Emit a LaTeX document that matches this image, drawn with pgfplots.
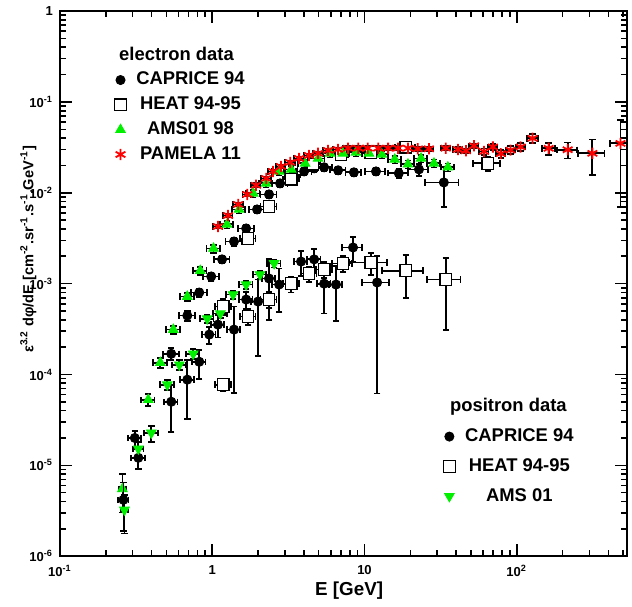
\documentclass[border=0pt]{standalone}
\usepackage{fontspec}
\setmainfont{Liberation Sans}
\usepackage{pgfplots}
\usepackage{pgfplotstable}
\pgfplotsset{compat=1.18}
\definecolor{amsgreen}{RGB}{0,240,0}

% electron data: E [GeV], value, relative x error, relative y error
\pgfplotstableread{
E V rx ry
0.31 2.0e-5 0.1 0.2
0.538 1.69e-4 0.12 0.15
0.686 4.45e-4 0.12 0.12
0.822 7.98e-4 0.12 0.1
0.985 1.20e-3 0.12 0.1
1.16 1.85e-3 0.12 0.1
1.39 2.91e-3 0.12 0.1
1.67 4.05e-3 0.12 0.1
1.97 6.56e-3 0.12 0.1
2.36 9.60e-3 0.12 0.1
2.79 0.0127 0.12 0.1
3.39 0.0156 0.12 0.1
4.01 0.0172 0.12 0.1
4.67 0.0186 0.12 0.1
5.43 0.0191 0.12 0.1
6.71 0.0177 0.12 0.1
8.52 0.0168 0.12 0.1
11.9 0.0172 0.15 0.1
16.8 0.0164 0.15 0.12
22.8 0.0181 0.15 0.15
33.2 0.0130 0.25 0.46
}\capem

\pgfplotstableread{
E V rx ry
1.72 3.14e-3 0.12 0.1
2.36 7.08e-3 0.12 0.1
3.30 0.0141 0.12 0.1
4.59 0.0206 0.12 0.1
7.0 0.0265 0.12 0.1
11.0 0.0279 0.12 0.1
18.7 0.0317 0.15 0.1
64.6 0.0211 0.2 0.18
}\heatem

\pgfplotstableread{
E V rx ry
0.257 5.5e-6 0.05 0.45
0.38 5.27e-5 0.1 0.15
0.456 1.35e-4 0.1 0.12
0.555 3.12e-4 0.1 0.1
0.686 7.21e-4 0.1 0.1
0.834 1.39e-3 0.1 0.1
1.02 2.44e-3 0.1 0.1
1.25 4.49e-3 0.1 0.1
1.50 6.56e-3 0.1 0.1
1.86 9.85e-3 0.1 0.1
2.26 0.0127 0.1 0.1
2.75 0.0172 0.1 0.1
3.30 0.0181 0.1 0.1
4.07 0.0211 0.1 0.1
4.96 0.0239 0.1 0.1
5.94 0.0272 0.1 0.1
7.22 0.0272 0.1 0.1
8.79 0.0279 0.1 0.1
10.7 0.0272 0.1 0.1
13.0 0.0265 0.1 0.1
15.8 0.0233 0.1 0.1
19.3 0.0206 0.1 0.1
23.5 0.0239 0.1 0.1
28.6 0.0211 0.1 0.1
35.3 0.0191 0.1 0.1
}\amsem

\pgfplotstableread{
E V rx ry
1.09 0.00426 0.07 0.05
1.27 0.00563 0.07 0.05
1.48 0.00745 0.07 0.05
1.70 0.0096 0.07 0.05
1.94 0.0121 0.07 0.05
2.26 0.0144 0.07 0.05
2.51 0.0172 0.07 0.05
2.83 0.0195 0.07 0.05
3.25 0.0216 0.07 0.05
3.72 0.0239 0.07 0.05
4.32 0.0258 0.07 0.05
4.95 0.0272 0.07 0.05
5.76 0.0293 0.07 0.05
6.7 0.030 0.07 0.05
7.8 0.031 0.07 0.05
9.1 0.031 0.07 0.05
10.5 0.031 0.07 0.05
12.3 0.031 0.07 0.05
14.3 0.031 0.07 0.05
16.6 0.031 0.07 0.05
19.3 0.031 0.07 0.05
22.4 0.0305 0.07 0.05
26.5 0.0305 0.07 0.05
34.2 0.031 0.07 0.05
41.1 0.030 0.07 0.06
46.4 0.029 0.07 0.06
52.4 0.033 0.07 0.06
61 0.0285 0.07 0.08
69.7 0.032 0.07 0.08
78.6 0.027 0.07 0.1
91 0.0295 0.07 0.1
106 0.032 0.07 0.1
127 0.0398 0.08 0.12
162 0.0309 0.1 0.15
216 0.0298 0.15 0.2
314 0.0272 0.2 0.42
480 0.035 0.15 0.8
}\pamem

% positron data
\pgfplotstableread{
E V rx ry
0.261 4.17e-6 0.08 0.55
0.327 1.21e-5 0.1 0.25
0.538 5.01e-5 0.1 0.54
0.686 8.77e-5 0.1 0.63
0.822 1.38e-4 0.1 0.35
0.956 2.75e-4 0.1 0.22
1.09 3.54e-4 0.1 0.28
1.39 3.12e-4 0.1 0.8
1.67 6.68e-4 0.1 0.22
2.0 6.35e-4 0.1 0.75
2.36 1.14e-3 0.1 0.65
2.75 9.77e-4 0.1 0.5
3.83 1.75e-3 0.1 0.3
4.67 1.85e-3 0.1 0.3
5.43 1.0e-3 0.1 0.53
6.50 9.77e-4 0.1 0.6
8.41 2.5e-3 0.15 0.3
12.1 1.03e-3 0.2 0.94
}\capep

\pgfplotstableread{
E V rx ry
1.18 5.6e-4 0.12 0.2
1.18 7.72e-5 0.12 0.15
1.72 4.34e-4 0.12 0.2
2.36 6.68e-4 0.12 0.2
3.30 1.0e-3 0.12 0.2
4.32 1.29e-3 0.12 0.2
5.43 1.43e-3 0.12 0.2
7.22 1.67e-3 0.15 0.2
11.0 1.71e-3 0.28 0.27
18.7 1.39e-3 0.3 0.5
34.2 1.11e-3 0.25 0.72
}\heatep

\pgfplotstableread{
E V rx ry
0.265 3.23e-6 0.05 0.45
0.327 1.52e-5 0.08 0.2
0.398 2.28e-5 0.1 0.2
0.507 7.72e-5 0.1 0.12
0.608 1.28e-4 0.1 0.12
0.75 1.69e-4 0.1 0.12
0.927 4.12e-4 0.1 0.1
1.13 4.68e-4 0.1 0.1
1.37 7.59e-4 0.1 0.1
1.67 9.77e-4 0.1 0.1
2.06 1.26e-3 0.1 0.1
2.55 1.67e-3 0.1 0.1
}\amsep

\begin{document}
\begin{tikzpicture}
\begin{axis}[name=main,
  xmode=log, ymode=log, xmin=0.1, xmax=530, ymin=1e-6, ymax=1,
  scale only axis, width=283.5pt, height=272.5pt,
  error bars/x dir=both, error bars/y dir=both,
  error bars/x explicit relative, error bars/y explicit relative,
  error bars/error bar style={black, line width=0.9pt, solid},
  error bars/error mark options={rotate=90, black, mark size=1.6pt, line width=0.9pt, solid},
  xtick={0.1,1,10,100}, xticklabels={10\textsuperscript{-1},1,10,10\textsuperscript{2}},
  ytick={1e-6,1e-5,1e-4,1e-3,1e-2,1e-1,1},
  yticklabels={10\textsuperscript{-6},10\textsuperscript{-5},10\textsuperscript{-4},10\textsuperscript{-3},10\textsuperscript{-2},10\textsuperscript{-1},1},
  tick label style={font=\fontsize{6.5}{7}\selectfont\bfseries},
  xticklabel style={yshift=-1pt},
  major tick length=6pt, minor tick length=3pt,
  tick style={line width=0.8pt, black},
  axis line style={line width=1.2pt},
  xlabel={E [GeV]},
  xlabel style={font=\fontsize{9.4}{11}\selectfont\bfseries, at={(axis description cs:0.51,-0.064)}, anchor=center},
  ylabel={ε\textsuperscript{3.2} dφ/dE [cm\textsuperscript{-2}.sr\textsuperscript{-1}.s\textsuperscript{-1}.GeV\textsuperscript{-1}]},
  ylabel style={font=\fontsize{7.3}{9}\selectfont\bfseries, at={(axis description cs:-0.056,0.563)}, anchor=center},
  legend cell align=center,
  legend image post style={xshift=-3pt},
  legend style={draw=none, fill=none, font=\fontsize{9.2}{11}\selectfont\bfseries,
    at={(axis description cs:0.21,0.95)}, anchor=north, row sep=0.5pt},
]
% tick marks on all four sides
\pgfplotsinvokeforeach{0.1,1,10,100}{
  \draw[line width=0.8pt] (axis cs:#1,1e-6) -- ([yshift=6pt]axis cs:#1,1e-6);
  \draw[line width=0.8pt] (axis cs:#1,1) -- ([yshift=-6pt]axis cs:#1,1);
}
\pgfplotsinvokeforeach{0.2,0.3,0.4,0.5,0.6,0.7,0.8,0.9,2,3,4,5,6,7,8,9,20,30,40,50,60,70,80,90,200,300,400,500}{
  \draw[line width=0.8pt] (axis cs:#1,1e-6) -- ([yshift=3pt]axis cs:#1,1e-6);
  \draw[line width=0.8pt] (axis cs:#1,1) -- ([yshift=-3pt]axis cs:#1,1);
}
\pgfplotsinvokeforeach{1e-6,1e-5,1e-4,1e-3,1e-2,1e-1,1}{
  \draw[line width=0.8pt] (axis cs:0.1,#1) -- ([xshift=6pt]axis cs:0.1,#1);
  \draw[line width=0.8pt] (axis cs:530,#1) -- ([xshift=-6pt]axis cs:530,#1);
}
\pgfplotsinvokeforeach{2e-6,3e-6,4e-6,5e-6,6e-6,7e-6,8e-6,9e-6,2e-5,3e-5,4e-5,5e-5,6e-5,7e-5,8e-5,9e-5,2e-4,3e-4,4e-4,5e-4,6e-4,7e-4,8e-4,9e-4,2e-3,3e-3,4e-3,5e-3,6e-3,7e-3,8e-3,9e-3,0.02,0.03,0.04,0.05,0.06,0.07,0.08,0.09,0.2,0.3,0.4,0.5,0.6,0.7,0.8,0.9}{
  \draw[line width=0.8pt] (axis cs:0.1,#1) -- ([xshift=3pt]axis cs:0.1,#1);
  \draw[line width=0.8pt] (axis cs:530,#1) -- ([xshift=-3pt]axis cs:530,#1);
}
\addlegendimage{empty legend}
\addlegendentry{\makebox[0pt]{electron data\hspace*{11pt}}}
\addplot[only marks, mark=*, mark size=2.3pt, black] table[x=E, y=V, x error=rx, y error=ry] {\capem};
\addlegendentry{\hspace*{3pt}CAPRICE 94}
\addplot[only marks, mark=square*, mark size=2.9pt, black, mark options={fill=white, line width=0.6pt}] table[x=E, y=V, x error=rx, y error=ry] {\heatem};
\addlegendentry{\hspace*{3pt}HEAT 94-95}
\addplot[only marks, mark=triangle*, mark size=2.8pt, color=amsgreen] table[x=E, y=V, x error=rx, y error=ry] {\amsem};
\addlegendentry{\hspace*{3pt}AMS01 98}
\addplot[only marks, mark=asterisk, mark size=2.8pt, color=red, line width=0.9pt] table[x=E, y=V, x error=rx, y error=ry] {\pamem};
\addlegendentry{\hspace*{3pt}PAMELA 11}
\end{axis}
\begin{axis}[at={(main.south west)}, anchor=south west, hide axis,
  xmode=log, ymode=log, xmin=0.1, xmax=530, ymin=1e-6, ymax=1,
  scale only axis, width=283.5pt, height=272.5pt,
  error bars/x dir=both, error bars/y dir=both,
  error bars/x explicit relative, error bars/y explicit relative,
  error bars/error bar style={black, line width=0.9pt, solid},
  error bars/error mark options={rotate=90, black, mark size=1.6pt, line width=0.9pt, solid},
  legend cell align=center,
  legend image post style={xshift=-3pt},
  legend style={draw=none, fill=none, font=\fontsize{9.2}{11}\selectfont\bfseries,
    at={(axis description cs:0.79,0.305)}, anchor=north, row sep=3pt},
]
\addlegendimage{empty legend}
\addlegendentry{\makebox[0pt]{positron data\hspace*{8pt}}}
\addplot[only marks, mark=*, mark size=2.3pt, black] table[x=E, y=V, x error=rx, y error=ry] {\capep};
\addlegendentry{\hspace*{3pt}CAPRICE 94}
\addplot[only marks, mark=square*, mark size=2.9pt, black, mark options={fill=white, line width=0.6pt}] table[x=E, y=V, x error=rx, y error=ry] {\heatep};
\addlegendentry{\hspace*{3pt}HEAT 94-95}
\addplot[only marks, mark=triangle*, mark size=2.8pt, mark options={rotate=180}, color=amsgreen] table[x=E, y=V, x error=rx, y error=ry] {\amsep};
\addlegendentry{\hspace*{3pt}AMS 01}
\end{axis}
\path ([shift={(-30pt,-24pt)}]main.south west) rectangle ([shift={(2.5pt,5pt)}]main.north east);
\end{tikzpicture}
\end{document}
